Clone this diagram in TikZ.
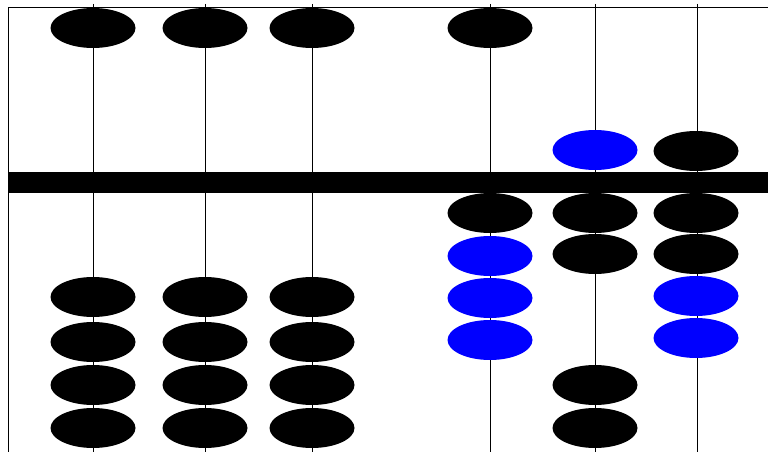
\documentclass[tikz,border=0pt]{standalone}
\usetikzlibrary{shapes.geometric}
\tikzset{
  bead/.style={ellipse,fill=black,minimum width=85pt,minimum height=40pt,inner sep=0pt},
  bluebead/.style={bead,fill=blue},
  rod/.style={line width=1pt}
}
\begin{document}
\begin{tikzpicture}[x=1pt,y=-1pt]
\useasboundingbox (0,0) rectangle (768,452);
% ==========================================
% frame and rods
\draw[rod] (8.5,452) -- (8.5,7.5) -- (768,7.5);
\foreach \x in {93,205,312,490,595,697}
  \draw[rod] (\x,4) -- (\x,452);
% beam
\fill (8,172) rectangle (768,193);
%
% first three rods: nothing set
\foreach \x/\n in {93/a,205/b,312/c}{
  \node[bead] (\n0) at (\x,28) {};
  \node[bead] (\n1) at (\x,297) {};
  \node[bead] (\n2) at (\x,342) {};
  \node[bead] (\n3) at (\x,385) {};
  \node[bead] (\n4) at (\x,428) {};
}
%
% fourth rod
\node[bead] (d0) at (490,28) {};
\node[bead] (d1) at (490,213) {};
\node[bluebead] (d2) at (490,256) {};
\node[bluebead] (d3) at (490,298) {};
\node[bluebead] (d4) at (490,340) {};
%
% fifth rod
\node[bluebead] (e0) at (595,150) {};
\node[bead] (e1) at (595,213) {};
\node[bead] (e2) at (595,254) {};
\node[bead] (e3) at (595,385) {};
\node[bead] (e4) at (595,428) {};
%
% sixth rod
\node[bead] (f0) at (696,151) {};
\node[bead] (f1) at (696,213) {};
\node[bead] (f2) at (696,254) {};
\node[bluebead] (f3) at (696,296) {};
\node[bluebead] (f4) at (696,338) {};
% ==========================================
\end{tikzpicture}
\end{document}
